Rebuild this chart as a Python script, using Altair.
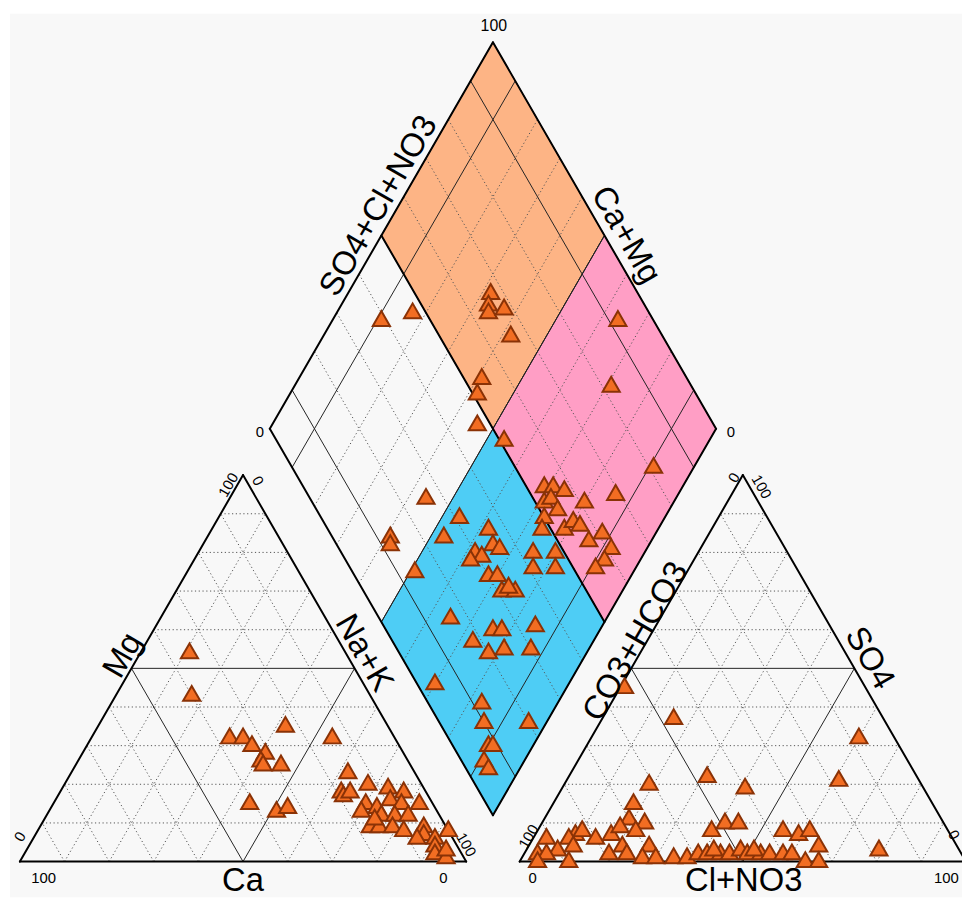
import altair as alt
import numpy as np
import pandas as pd

# ---------------- data (percent of meq/L) ----------------
# Cation triangle: Ca and Mg (Na+K is the remainder)
cat_ca = [35, 40, 37, 34, 33, 31, 33, 33, 29, 23, 41, 36, 33, 14, 15, 12, 19, 19, 17, 8, 5, 9,
          7, 3, 15, 13, 17, 13, 10, 7, 17, 15, 12, 10, 5, 6, 8, 4, 0, 5, 6, 4, 3, 15]
cat_mg = [54, 43, 32, 32, 30, 28, 26, 25, 25, 35, 15, 13, 14, 32, 23, 20, 18, 17, 18, 19, 18, 16,
          15, 15, 15, 14, 13, 12, 12, 12, 9, 9, 9, 8, 9, 7, 6, 6, 8, 4, 2, 1, 3, 11]

# Anion triangle: Cl+NO3 and SO4 (CO3+HCO3 is the remainder)
an_cl = [1, 16, 60, 31, 41, 61, 19, 18, 19, 23, 22, 17, 18, 39, 41, 44, 55, 59, 61, 65, 79, 3,
         9, 10, 14, 8, 3, 7, 10, 11, 5, 4, 19, 21, 23, 27, 27, 30, 34, 37, 39, 41, 44, 46, 48,
         50, 53, 55, 58, 60, 64, 67, 42, 51]
an_so4 = [45, 37, 32, 22, 19, 21, 20, 15, 11, 10, 8, 7, 9, 8, 10, 10, 8, 7, 8, 4, 3, 6,
          7, 8, 6, 6, 2, 3, 4, 0, 2, 0, 2, 4, 2, 4, 1, 1, 1, 1, 2, 2, 2, 2, 3,
          2, 2, 2, 2, 2, 0, 0, 3, 3]

# Diamond: SO4+Cl+NO3 and Ca+Mg
dia_anion = [39, 47, 67, 65, 64, 68, 66, 54, 51, 47, 51, 92, 82, 81, 26, 13, 12, 31, 25, 14,
             36, 35, 36, 30, 31, 28, 30, 32, 31, 34, 33, 43, 41, 48, 46, 16, 24, 26, 18, 20,
             24, 34, 30, 4, 12, 10, 20, 8, 9, 5, 5, 54, 56, 58, 52, 54, 54, 50, 48, 53,
             56, 57, 61, 69, 61, 57, 61, 58, 55]
dia_cation = [89, 83, 68, 67, 66, 63, 58, 59, 58, 54, 46, 36, 29, 9, 56, 59, 58, 46, 47, 49,
              38, 35, 33, 38, 36, 38, 32, 30, 27, 24, 26, 25, 23, 20, 18, 35, 24, 22, 27, 22,
              19, 15, 13, 30, 17, 14, 4, 10, 9, 9, 7, 31, 29, 26, 29, 28, 25, 27, 26, 21,
              20, 18, 20, 14, 12, 14, 8, 8, 9]

# axis labels
lab_text = ["100", "0", "0", "SO4+Cl+NO3", "Ca+Mg",
            "Mg", "Na+K", "Ca", "100", "0", "0", "100", "0", "100",
            "CO3+HCO3", "SO4", "Cl+NO3", "0", "100", "100", "0", "100", "0"]
lab_x = [106.2, 53.8, 159.3, 80.4, 135.8,
         23.1, 77.1, 50.0, 5.3, 94.9, 0.0, 46.7, 53.3, 100.0,
         138.0, 190.4, 162.2, 114.9, 207.6, 114.0, 160.0, 166.2, 209.3]
lab_y = [187.3, 96.2, 96.2, 146.9, 140.4,
         46.2, 46.7, -4.4, -3.6, -3.6, 5.6, 84.4, 85.3, 3.8,
         49.3, 45.6, -4.4, -3.6, -3.6, 5.6, 86.0, 84.0, 6.0]
lab_angle = [0, 0, 0, 300, 60,
             300, 60, 0, 0, 0, 300, 300, 60, 60,
             300, 60, 0, 0, 0, 300, 300, 60, 60]
lab_size = [16, 15, 15, 33, 33,
            33, 33, 33, 15, 15, 15, 15, 15, 15,
            33, 33, 33, 15, 15, 15, 15, 15, 15]

# ---------------- geometry ----------------
S3 = np.sqrt(3) / 2
GAP = 12.0
RX = 100 + GAP
BX, BY = 100 + GAP / 2, GAP * S3


def tri(ox, right, top):
    return ox + right + top / 2.0, top * S3


def dia(a, c):
    return BX + 0.5 * (a - c), BY + S3 * (a + c)


cat = pd.DataFrame({"Ca": cat_ca, "Mg": cat_mg})
cat["NaK"] = 100 - cat["Ca"] - cat["Mg"]
cat["x"], cat["y"] = tri(0, cat["NaK"], cat["Mg"])

an = pd.DataFrame({"Cl": an_cl, "SO4": an_so4})
an["x"], an["y"] = tri(RX, an["Cl"], an["SO4"])

dm = pd.DataFrame({"A": dia_anion, "C": dia_cation})
dm["x"], dm["y"] = dia(dm["A"], dm["C"])

pts = pd.concat([cat[["x", "y"]], an[["x", "y"]], dm[["x", "y"]]], ignore_index=True)

seg = []


def add(p, q, kind):
    seg.append(dict(x=float(p[0]), y=float(p[1]), x2=float(q[0]), y2=float(q[1]), kind=kind))


for ox in (0, RX):
    for k in range(10, 100, 10):
        kind = "solid" if k == 50 else "dot"
        add(tri(ox, 0, k), tri(ox, 100 - k, k), kind)
        add(tri(ox, k, 0), tri(ox, k, 100 - k), kind)
        add(tri(ox, 100 - k, 0), tri(ox, 0, 100 - k), kind)
    add(tri(ox, 0, 0), tri(ox, 100, 0), "edge")
    add(tri(ox, 100, 0), tri(ox, 0, 100), "edge")
    add(tri(ox, 0, 100), tri(ox, 0, 0), "edge")

for k in range(10, 100, 10):
    if k in (10, 90):
        ka, kc = "solid", "solid"
    elif k == 50:
        ka, kc = "edge", "solid"
    else:
        ka, kc = "dot", "dot"
    add(dia(k, 0), dia(k, 100), ka)
    add(dia(0, k), dia(100, k), kc)
add(dia(0, 0), dia(100, 0), "edge")
add(dia(100, 0), dia(100, 100), "edge")
add(dia(100, 100), dia(0, 100), "edge")
add(dia(0, 100), dia(0, 0), "edge")
segs = pd.DataFrame(seg)


def poly(name, corners):
    ring = [[float(p[0]), float(p[1])] for p in corners]
    ring.append(ring[0])
    return {"type": "Feature", "properties": {"region": name},
            "geometry": {"type": "Polygon", "coordinates": [ring]}}


region_features = [
    poly("top", [dia(50, 100), dia(100, 100), dia(100, 50), dia(50, 50)]),
    poly("right", [dia(50, 50), dia(100, 50), dia(100, 0), dia(50, 0)]),
    poly("bottom", [dia(0, 50), dia(50, 50), dia(50, 0), dia(0, 0)]),
]

labels = pd.DataFrame({"x": lab_x, "y": lab_y, "text": lab_text,
                       "angle": lab_angle, "size": lab_size})

# ---------------- chart ----------------
PX = 4.5  # pixels per percent unit
W, H = 960, 891
XMIN = -10 / PX
XMAX = XMIN + W / PX
YMAX = 855 / PX
YMIN = YMAX - H / PX
xs = alt.Scale(domain=[XMIN, XMAX], nice=False, zero=False)
ys = alt.Scale(domain=[YMIN, YMAX], nice=False, zero=False)
X = alt.X("x:Q", scale=xs, axis=None)
Y = alt.Y("y:Q", scale=ys, axis=None)

regions = alt.Chart(alt.Data(values=region_features)).mark_geoshape(
    stroke="#222222", strokeWidth=1, opacity=1).encode(
    color=alt.Color("properties.region:N", legend=None,
                    scale=alt.Scale(domain=["top", "right", "bottom"],
                                    range=["#FDB485", "#FF9EC5", "#4ECDF5"]))
).project(type="identity", reflectY=True, scale=PX, translate=[-XMIN * PX, YMAX * PX])

base_seg = alt.Chart(segs)
dots = base_seg.transform_filter(alt.datum.kind == "dot").mark_rule(
    color="#555555", strokeWidth=1, strokeDash=[1.2, 2.6]).encode(x=X, y=Y, x2="x2:Q", y2="y2:Q")
solid = base_seg.transform_filter(alt.datum.kind == "solid").mark_rule(
    color="#222222", strokeWidth=1).encode(x=X, y=Y, x2="x2:Q", y2="y2:Q")
edges = base_seg.transform_filter(alt.datum.kind == "edge").mark_rule(
    color="#000000", strokeWidth=2, strokeCap="round").encode(x=X, y=Y, x2="x2:Q", y2="y2:Q")

points = alt.Chart(pts).mark_point(
    shape="triangle-up", filled=True, size=300, fill="#F26D22", stroke="#8A3206",
    strokeWidth=2, opacity=1, yOffset=-2).encode(x=X, y=Y)

texts = alt.Chart(labels).mark_text(
    font="Liberation Sans", color="black", align="center", baseline="middle").encode(
    x=X, y=Y, text="text:N",
    angle=alt.Angle("angle:Q", scale=None),
    size=alt.Size("size:Q", scale=None))

chart = alt.layer(regions, dots, solid, edges, points, texts).properties(
    width=W, height=H,
    autosize=alt.AutoSizeParams(type="none"),
    padding={"left": 2, "top": 2, "right": 0, "bottom": 0},
    background="white",
).configure_view(stroke=None, fill="#F8F8F8")

chart.save("out.html", embed_options={"renderer": "svg", "actions": False})
